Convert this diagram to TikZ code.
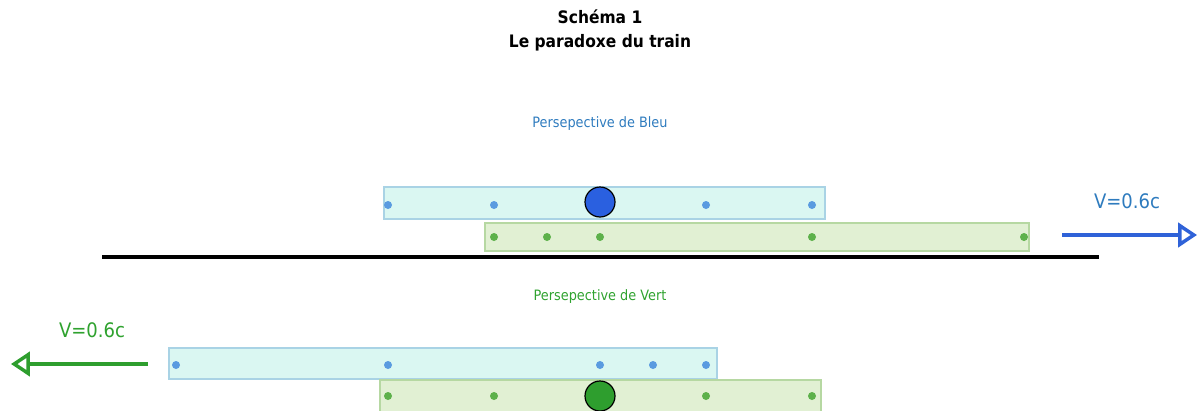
\documentclass[tikz,border=0pt]{standalone}
\usepackage{fontspec}
\setmainfont{DejaVu Sans Condensed}
\usetikzlibrary{arrows.meta}
\definecolor{bluebarfill}{HTML}{DAF7F2}
\definecolor{bluebarline}{HTML}{A9D3E5}
\definecolor{greenbarfill}{HTML}{E1F0D3}
\definecolor{greenbarline}{HTML}{B6D8A2}
\definecolor{bluedot}{HTML}{5A9BE0}
\definecolor{greendot}{HTML}{5DB14B}
\definecolor{bigblue}{HTML}{2A60E0}
\definecolor{biggreen}{HTML}{2E9E2E}
\definecolor{bluetext}{HTML}{2E7BBE}
\definecolor{greentext}{HTML}{2FA22F}
\definecolor{bluearrow}{HTML}{2F62D8}
\definecolor{greenarrow}{HTML}{2E9E2E}
\tikzset{
  bluebar/.style={draw=bluebarline, fill=bluebarfill, line width=1.2pt, inner sep=0pt},
  greenbar/.style={draw=greenbarline, fill=greenbarfill, line width=1.2pt, inner sep=0pt},
  bdot/.style={circle, fill=bluedot, inner sep=0pt, minimum size=8pt},
  gdot/.style={circle, fill=greendot, inner sep=0pt, minimum size=8pt},
  bigdot/.style={circle, draw=black, line width=1.2pt, inner sep=0pt, minimum size=30pt},
  speedarrow/.style={line width=3.5pt, -{Triangle[open, length=14pt, width=18pt, line width=3.5pt, scale=1.35]}},
  speedlabel/.style={font=\fontsize{20}{24}\selectfont},
  persp/.style={font=\fontsize{14.3}{16}\selectfont}
}
\begin{document}
\begin{tikzpicture}[x=1pt,y=-1pt]
\useasboundingbox (0,0) rectangle (1200,410);

% title
\node[align=center, font=\bfseries\fontsize{17.2}{24}\selectfont] (title) at (600,30) {Schéma 1\\Le paradoxe du train};

% Blue's frame
\node[persp, text=bluetext] (pbleu) at (600,124) {Persepective de Bleu};
\node[bluebar, minimum width=441pt, minimum height=32pt] (tb1) at (604.5,203) {};
\node[greenbar, minimum width=544pt, minimum height=28pt] (tg1) at (757,237) {};
\foreach \x [count=\i] in {388,494,706,812} \node[bdot] (b1\i) at (\x,205) {};
\node[bigdot, fill=bigblue] (bigb) at (600,202) {};
\foreach \x [count=\i] in {494,547,600,812,1024} \node[gdot] (g1\i) at (\x,237) {};
\node[speedlabel, text=bluetext] (vb) at (1127,201) {V=0.6c};
\coordinate (ba0) at (1062,235);
\coordinate (ba1) at (1197,235);
\draw[speedarrow, draw=bluearrow] (ba0) -- (ba1);

% ground line
\coordinate (gl0) at (102,257);
\coordinate (gl1) at (1099,257);
\draw[line width=4pt] (gl0) -- (gl1);

% Green's frame
\node[persp, text=greentext] (pvert) at (600,297) {Persepective de Vert};
\node[bluebar, minimum width=548pt, minimum height=31pt] (tb2) at (443,363.5) {};
\node[greenbar, minimum width=441pt, minimum height=36pt] (tg2) at (600.5,398) {};
\foreach \x [count=\i] in {176,388,600,653,706} \node[bdot] (b2\i) at (\x,365) {};
\foreach \x [count=\i] in {388,494,706,812} \node[gdot] (g2\i) at (\x,396) {};
\node[bigdot, fill=biggreen] (bigg) at (600,396) {};
\node[speedlabel, text=greentext] (vg) at (92,330) {V=0.6c};
\coordinate (ga0) at (148,364);
\coordinate (ga1) at (11,364);
\draw[speedarrow, draw=greenarrow] (ga0) -- (ga1);
\end{tikzpicture}
\end{document}
